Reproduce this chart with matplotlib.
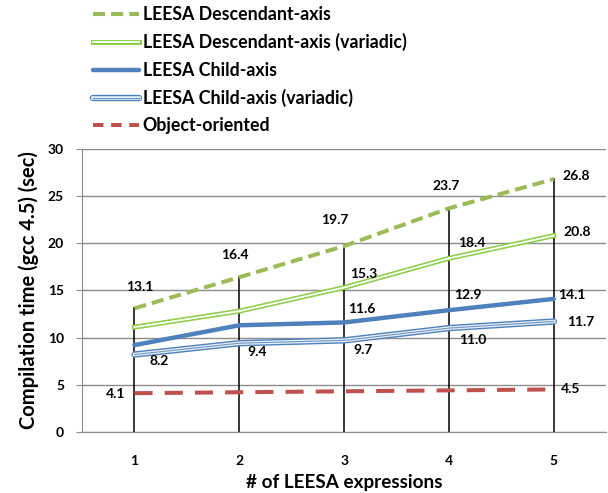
import matplotlib
matplotlib.use("Agg")
import matplotlib.pyplot as plt
from matplotlib.lines import Line2D
from matplotlib.legend_handler import HandlerTuple

plt.rcParams['font.family'] = ['Lato', 'DejaVu Sans']
plt.rcParams['font.weight'] = 'bold'

# data
exprs = [1, 2, 3, 4, 5]
desc_axis = [13.1, 16.4, 19.7, 23.7, 26.8]
desc_axis_var = [11.1, 12.8, 15.3, 18.4, 20.8]
child_axis = [9.2, 11.3, 11.6, 12.9, 14.1]
child_axis_var = [8.2, 9.4, 9.7, 11.0, 11.7]
obj_oriented = [4.1, 4.2, 4.3, 4.4, 4.5]

series_names = ["LEESA Descendant-axis", "LEESA Descendant-axis (variadic)",
                "LEESA Child-axis", "LEESA Child-axis (variadic)", "Object-oriented"]

GREEN = "#9BBB59"
LGREEN = "#8CD04A"
BLUE = "#4F81BD"
RED = "#C0504D"

fig = plt.figure(figsize=(6.08, 4.93), dpi=100)
ax = fig.add_axes([0.135, 0.124, 0.862, 0.574])

# high-low lines
for x, top in zip(exprs, desc_axis):
    ax.plot([x, x], [0, top], color="black", lw=1.1, zorder=2)

ax.plot(exprs, obj_oriented, color=RED, lw=2.9, dashes=(4.5, 3), zorder=3)
cv_outer, = ax.plot(exprs, child_axis_var, color=BLUE, lw=4.6, solid_capstyle='round', zorder=3)
cv_mid, = ax.plot(exprs, child_axis_var, color="#E8EEF7", lw=2.6, zorder=3)
cv_in, = ax.plot(exprs, child_axis_var, color=BLUE, lw=0.8, alpha=0.8, zorder=3)
c_line, = ax.plot(exprs, child_axis, color=BLUE, lw=3.2, solid_capstyle='round', zorder=4)
dv_outer, = ax.plot(exprs, desc_axis_var, color=LGREEN, lw=3.6, zorder=3)
dv_in, = ax.plot(exprs, desc_axis_var, color="white", lw=1.3, zorder=3)
d_line, = ax.plot(exprs, desc_axis, color=GREEN, lw=2.9, dashes=(3, 1.5), zorder=4)
o_line = Line2D([], [], color=RED, lw=2.9, dashes=(2.6, 1.9))

# data labels: (series values, indices shown, pixel offsets)
label_specs = [
    (desc_axis, [0, 1, 2, 3, 4], [(5, 21), (-4, 22), (-9, 26), (-3, 22), (22, 3)]),
    (desc_axis_var, [2, 3, 4], [(20, 14), (23, 15), (23, 4)]),
    (child_axis, [2, 3, 4], [(18, 13), (19, 15), (18, 4)]),
    (child_axis_var, [0, 1, 2, 3, 4], [(25, -6), (18, -9), (19, -10), (24, -12), (27, 0)]),
    (obj_oriented, [0, 4], [(-19, -1), (17, 0)]),
]
for vals, idxs, offs in label_specs:
    for i, (dx, dy) in zip(idxs, offs):
        ax.annotate(f"{vals[i]:.1f}", (exprs[i], vals[i]), xytext=(dx, dy),
                    textcoords="offset pixels", ha="center", va="center",
                    fontsize=10, fontweight="bold", color="black", zorder=5)

ax.set_xlim(0.5, 5.5)
ax.set_ylim(0, 30)
ax.set_yticks(range(0, 31, 5))
ax.set_xticks(exprs)
ax.grid(axis="y", color="#8C8C8C", lw=1)
ax.set_axisbelow(True)
for s in ["top", "right"]:
    ax.spines[s].set_visible(False)
for s in ["left", "bottom"]:
    ax.spines[s].set_color("#8C8C8C")
ax.tick_params(axis="y", length=4, color="#8C8C8C", labelsize=10, pad=9)
ax.tick_params(axis="x", length=0, labelsize=10, pad=17)
for lbl in ax.get_xticklabels() + ax.get_yticklabels():
    lbl.set_fontweight("bold")

ax.set_xlabel("# of LEESA expressions", fontsize=13.6, fontweight="bold", labelpad=5)
ax.set_ylabel("Compilation time (gcc 4.5) (sec)", fontsize=14.5, fontweight="bold", labelpad=6)

handles = [d_line, (dv_outer, dv_in), c_line, (cv_outer, cv_mid, cv_in), o_line]
fig.legend(handles, series_names, loc="upper left",
           bbox_to_anchor=(93 / 608, 1 - 6 / 493), frameon=False,
           borderpad=0, borderaxespad=0,
           handlelength=2.6, handletextpad=0.2, labelspacing=0.58,
           handler_map={tuple: HandlerTuple(ndivide=1)}, prop={"weight": "bold", "size": 12.8})

fig.savefig("out.png", dpi=100)
